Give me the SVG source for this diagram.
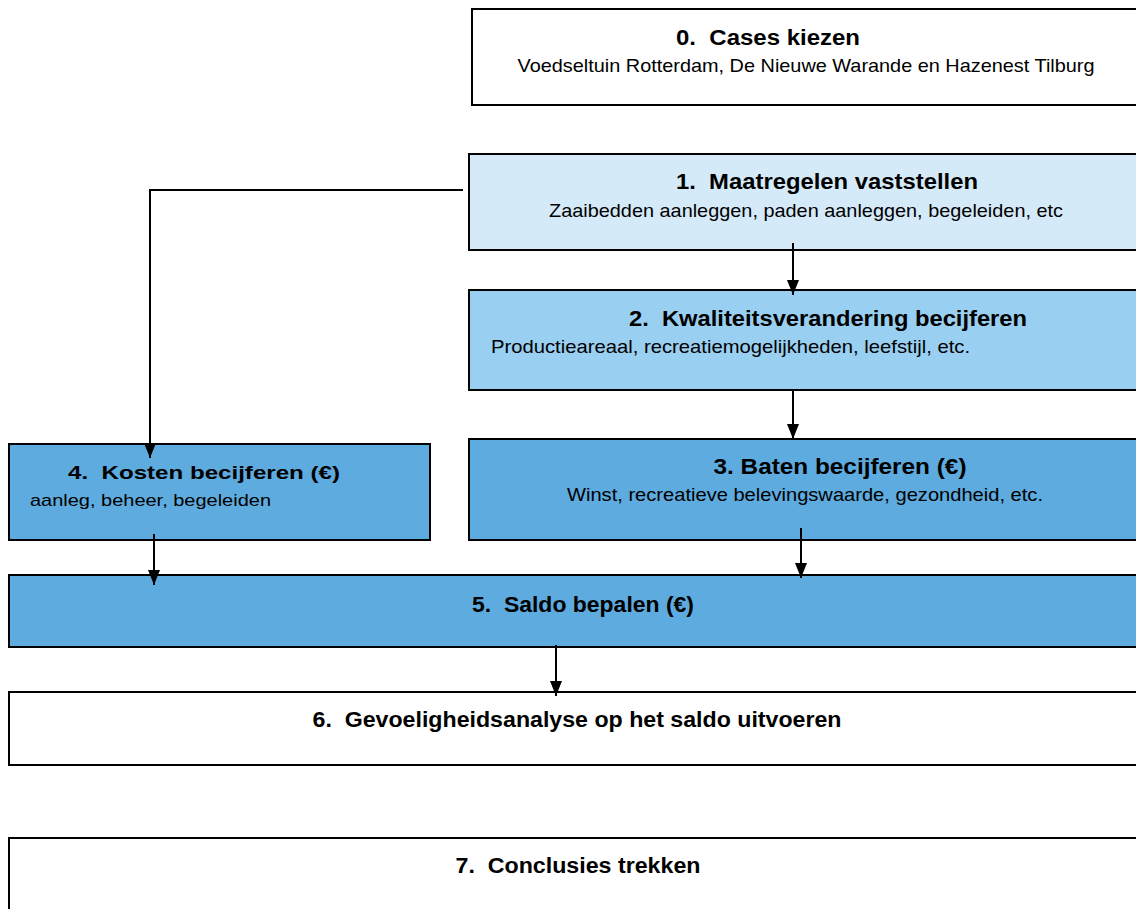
<svg xmlns="http://www.w3.org/2000/svg" width="1136" height="909" viewBox="0 0 1136 909">
<style>
text{white-space:pre}
.box{stroke:#000;stroke-width:2}
.t{font-family:"Liberation Sans Narrow","Liberation Sans",Arial,sans-serif;font-weight:bold;font-size:22px;fill:#000}
.s{font-family:"Liberation Sans Narrow","Liberation Sans",Arial,sans-serif;font-size:19px;fill:#000}
.t4{font-family:"Liberation Sans",Arial,sans-serif;font-weight:bold;font-size:19px;fill:#000}
.s4{font-family:"Liberation Sans",Arial,sans-serif;font-size:17px;fill:#000}
.c{stroke:#000;stroke-width:2;fill:none}
</style>
<defs>
<marker id="ah" markerWidth="15" markerHeight="12" refX="15" refY="6" orient="auto" markerUnits="userSpaceOnUse" viewBox="0 0 15 12">
<path d="M0,0 L15,6 L0,12 Z" fill="#000"/>
</marker>
</defs>
<rect width="1136" height="909" fill="#fff"/>
<g id="n0"><rect class="box" x="472" y="9" width="670" height="96" fill="#fff"/>
<text class="t" x="768" y="45" text-anchor="middle" textLength="184" lengthAdjust="spacingAndGlyphs" xml:space="preserve">0.  Cases kiezen</text>
<text class="s" x="806" y="72" text-anchor="middle" textLength="577" lengthAdjust="spacingAndGlyphs">Voedseltuin Rotterdam, De Nieuwe Warande en Hazenest Tilburg</text></g>
<g id="n1"><rect class="box" x="469" y="154" width="673" height="96" fill="#D5EAF8"/>
<text class="t" x="827" y="189" text-anchor="middle" textLength="302" lengthAdjust="spacingAndGlyphs" xml:space="preserve">1.  Maatregelen vaststellen</text>
<text class="s" x="806" y="217" text-anchor="middle" textLength="514" lengthAdjust="spacingAndGlyphs">Zaaibedden aanleggen, paden aanleggen, begeleiden, etc</text></g>
<g id="n2"><rect class="box" x="469" y="290" width="673" height="100" fill="#99CFF1"/>
<text class="t" x="828" y="326" text-anchor="middle" textLength="398" lengthAdjust="spacingAndGlyphs" xml:space="preserve">2.  Kwaliteitsverandering becijferen</text>
<text class="s" x="491" y="353" textLength="479" lengthAdjust="spacingAndGlyphs">Productieareaal, recreatiemogelijkheden, leefstijl, etc.</text></g>
<g id="n3"><rect class="box" x="469" y="439" width="673" height="101" fill="#5DABDF"/>
<text class="t" x="840" y="474" text-anchor="middle" textLength="253" lengthAdjust="spacingAndGlyphs">3. Baten becijferen (€)</text>
<text class="s" x="805" y="501" text-anchor="middle" textLength="476" lengthAdjust="spacingAndGlyphs">Winst, recreatieve belevingswaarde, gezondheid, etc.</text></g>
<g id="n4"><rect class="box" x="9" y="444" width="421" height="96" fill="#5DABDF"/>
<text class="t4" x="68" y="479" textLength="272" lengthAdjust="spacingAndGlyphs" xml:space="preserve">4.  Kosten becijferen (€)</text>
<text class="s4" x="30" y="506" textLength="241" lengthAdjust="spacingAndGlyphs">aanleg, beheer, begeleiden</text></g>
<g id="n5"><rect class="box" x="9" y="575" width="1133" height="72" fill="#5DABDF"/>
<text class="t" x="583" y="612" text-anchor="middle" textLength="222" lengthAdjust="spacingAndGlyphs" xml:space="preserve">5.  Saldo bepalen (€)</text></g>
<g id="n6"><rect class="box" x="9" y="692" width="1133" height="73" fill="#fff"/>
<text class="t" x="577" y="727" text-anchor="middle" textLength="529" lengthAdjust="spacingAndGlyphs" xml:space="preserve">6.  Gevoeligheidsanalyse op het saldo uitvoeren</text></g>
<g id="n7"><rect class="box" x="9" y="838" width="1133" height="80" fill="#fff"/>
<text class="t" x="578" y="873" text-anchor="middle" textLength="245" lengthAdjust="spacingAndGlyphs" xml:space="preserve">7.  Conclusies trekken</text></g>
<g id="connectors">
<path class="c" d="M463,190 H150 V458" marker-end="url(#ah)"/>
<path class="c" d="M793,243 V295" marker-end="url(#ah)"/>
<path class="c" d="M793,389 V439" marker-end="url(#ah)"/>
<path class="c" d="M801,528 V578" marker-end="url(#ah)"/>
<path class="c" d="M154,534 V585" marker-end="url(#ah)"/>
<path class="c" d="M556,645 V696" marker-end="url(#ah)"/>
</g>
</svg>
